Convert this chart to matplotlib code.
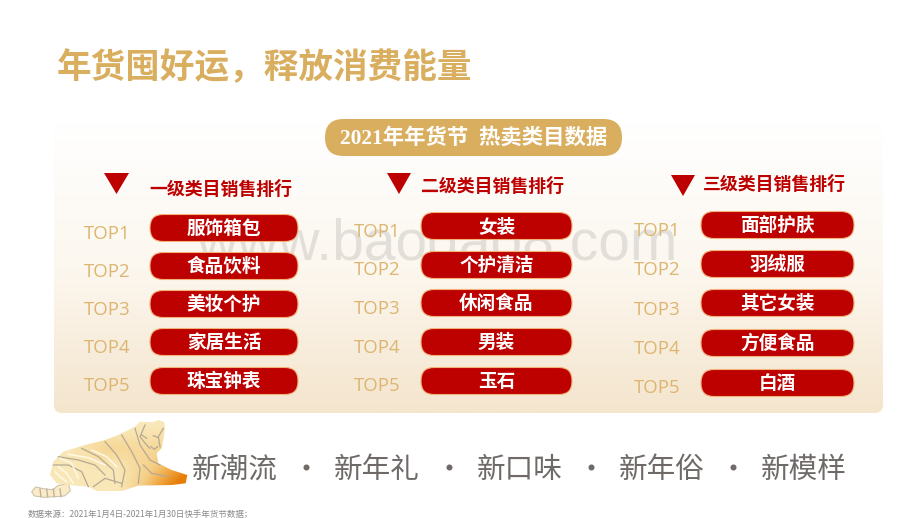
import numpy as np
import matplotlib
matplotlib.use("Agg")
import matplotlib.pyplot as plt
from matplotlib.patches import FancyBboxPatch, Polygon, PathPatch
from matplotlib.path import Path
from matplotlib.colors import LinearSegmentedColormap

CJK = ['Noto Sans CJK SC', 'DejaVu Sans']
plt.rcParams['font.family'] = CJK

title = "年货囤好运，释放消费能量"
banner = "2021年年货节  热卖类目数据"
level_titles = ["一级类目销售排行", "二级类目销售排行", "三级类目销售排行"]
ranks = ["TOP1", "TOP2", "TOP3", "TOP4", "TOP5"]
level_1 = ["服饰箱包", "食品饮料", "美妆个护", "家居生活", "珠宝钟表"]
level_2 = ["女装", "个护清洁", "休闲食品", "男装", "玉石"]
level_3 = ["面部护肤", "羽绒服", "其它女装", "方便食品", "白酒"]
slogans = ["新潮流", "新年礼", "新口味", "新年俗", "新模样"]
source = "数据来源：2021年1月4日-2021年1月30日快手年货节数据；"
watermark = "www.baogao8.com"

RED = "#BD0000"
GOLD = "#D9AE5F"
TOPC = "#DDB570"

fig = plt.figure(figsize=(9.2, 5.18), dpi=100)
ax = fig.add_axes([0, 0, 1, 1])
ax.set_axis_off()


def rounded(x0, y0, x1, y1, r, **kw):
    p = FancyBboxPatch((x0, y0), x1 - x0, y1 - y0,
                       boxstyle=f"round,pad=0,rounding_size={r}", **kw)
    ax.add_patch(p)
    return p


# panel with vertical gradient
panel_cm = LinearSegmentedColormap.from_list("p", ["#FFFFFF", "#FCF7EF", "#F4E5CD"])
panel = rounded(54, 122, 883, 413, 8, fc="none", ec="none")
im = ax.imshow(np.linspace(0, 1, 256)[:, None], cmap=panel_cm, aspect="auto",
               extent=(54, 883, 413, 122), zorder=0.5)
im.set_clip_path(panel)

ax.text(264, 68, title, color=GOLD, fontsize=24.9, fontweight="bold",
        ha="center", va="center")

rounded(325, 119, 622, 156, 18.5, fc=GOLD, ec="none", zorder=2)
ax.text(474, 138, banner, color="white", fontsize=15.4, fontweight="bold",
        ha="center", va="center", zorder=3,
        family=['Liberation Serif', 'Noto Sans CJK SC'])

# watermark
ax.text(437, 245, watermark, color="#8A8A8A", alpha=0.22, fontsize=41,
        ha="center", va="center", family="Liberation Sans", zorder=1)

# column layout
columns = [
    dict(items=level_1, head=level_titles[0], hx=221, hy=189.5, tri=(104, 129, 173, 194),
         top_x=107.5, top_y=[233, 271, 309, 347, 385], px=(150, 298),
         py=[228, 266, 304, 342, 381]),
    dict(items=level_2, head=level_titles[1], hx=492.5, hy=186.5, tri=(387, 411, 173, 194),
         top_x=377.5, top_y=[231, 269, 308, 347, 385], px=(421, 572),
         py=[226, 265, 303, 342, 381]),
    dict(items=level_3, head=level_titles[2], hx=774.5, hy=184.5, tri=(671, 695, 175, 196),
         top_x=657.5, top_y=[230, 269, 309, 348, 387], px=(701, 854),
         py=[225, 264, 303, 343, 383]),
]
for c in columns:
    x0, x1, y0, y1 = c["tri"]
    ax.add_patch(Polygon([(x0, y0), (x1, y0), ((x0 + x1) / 2, y1)], fc=RED, ec="none", zorder=3))
    ax.text(c["hx"], c["hy"], c["head"], color=RED, fontsize=12.9, fontweight="bold",
            ha="center", va="center", zorder=3)
    for rank, item, ty, py in zip(ranks, c["items"], c["top_y"], c["py"]):
        ax.text(c["top_x"], ty + 1, rank, color=TOPC, fontsize=13.4, fontweight="medium",
                ha="center", va="center", family="Open Sans", zorder=3)
        rounded(c["px"][0], py - 13.5, c["px"][1], py + 13.5, 13, fc=RED, ec="#F2B27A",
                lw=0.8, zorder=3)
        ax.text(sum(c["px"]) / 2, py + 0.5, item, color="white", fontsize=13.4, fontweight="bold",
                ha="center", va="center", zorder=4)

# slogans
slogan_x = [235, 377, 520, 662, 804]
dot_x = [306, 449, 591, 733]
for x, s in zip(slogan_x, slogans):
    ax.text(x, 470, s, color="#6F6A68", fontsize=20.6, ha="center", va="center", fontweight="medium")
ax.scatter(dot_x, [467] * 4, s=11, color="#6F6A68", zorder=3)

ax.text(28, 514, source, color="#8A8A8A", fontsize=6.1, ha="left", va="center")


# tiger illustration, traced in its own local coordinates
def T(pts):
    return [(25 + x / 3, 415 + y / 3) for x, y in pts]


tiger_cm = LinearSegmentedColormap.from_list(
    "t", ["#FBEFC8", "#F8E0A8", "#F5CE86", "#F0A53F", "#E67E07"])
outline = T([(330, 35), (345, 20), (385, 22), (400, 15), (418, 22), (420, 42), (415, 72),
             (410, 100), (395, 115), (400, 145), (440, 165), (487, 180), (482, 205),
             (440, 210), (340, 212), (290, 228), (215, 228), (190, 215), (130, 210),
             (95, 205), (75, 180), (85, 140), (115, 110), (180, 90), (240, 75),
             (280, 60), (310, 45)])
body = PathPatch(Path(outline + [outline[0]], closed=True), fc="none", ec="none")
ax.add_patch(body)
xx, yy = np.meshgrid(np.linspace(0, 1, 220), np.linspace(0, 1, 120))
shade = 0.12 + 0.25 * np.exp(-((xx - 0.45) ** 2 / 0.04 + (yy - 0.4) ** 2 / 0.03)) \
    + 0.9 * np.clip(xx - 0.5, 0, 1) * np.clip(yy - 0.1, 0, 1) * 3.2
t_im = ax.imshow(np.clip(shade, 0, 1), cmap=tiger_cm, vmin=0, vmax=1, aspect="auto",
                 extent=(45, 190, 495, 418), zorder=2)
t_im.set_clip_path(body)

tail = T([(130, 205), (136, 228), (118, 243), (60, 247), (28, 243), (20, 230), (32, 216),
          (60, 222), (85, 224), (98, 212)])
ax.add_patch(Polygon(tail, closed=True, fc="#FAEBC6", ec="#C9BDA6", lw=0.7, zorder=1.8))
for x in (45, 65, 85, 105):
    ax.plot(*zip(*T([(x, 222), (x + 3, 245)])), color="#BDB29E", lw=1, zorder=3)

grey_lines = [
    [(85, 150), (130, 150), (170, 170), (190, 215)],
    [(100, 125), (160, 135), (210, 150), (240, 180)],
    [(170, 100), (220, 125), (265, 165), (270, 205)],
    [(240, 80), (275, 120), (300, 165), (290, 215)],
    [(290, 60), (320, 110), (345, 160), (340, 205)],
    [(330, 40), (345, 90), (375, 135), (405, 150)],
    [(360, 30), (345, 65), (365, 90), (375, 100)],
    [(415, 40), (400, 65), (405, 95)],
    [(205, 215), (240, 190), (290, 205)],
    [(355, 150), (380, 175), (430, 185)],
    [(350, 60), (365, 70)],
    [(385, 62), (400, 68)],
    [(378, 95), (388, 103), (398, 95)],
]
white_lines = [
    [(105, 130), (140, 145), (160, 190)],
    [(100, 155), (125, 175), (145, 205)],
    [(130, 118), (190, 128), (240, 150)],
    [(90, 170), (105, 185), (125, 200)],
    [(200, 105), (245, 125), (275, 155)],
]
for s in grey_lines:
    ax.plot(*zip(*T(s)), color="#B5A994", lw=0.9, zorder=3)
for s in white_lines:
    ax.plot(*zip(*T(s)), color="#FFF9E8", lw=1.1, zorder=3)

ax.set_xlim(0, 920)
ax.set_ylim(518, 0)
fig.savefig("out.png", dpi=100, facecolor="white")
